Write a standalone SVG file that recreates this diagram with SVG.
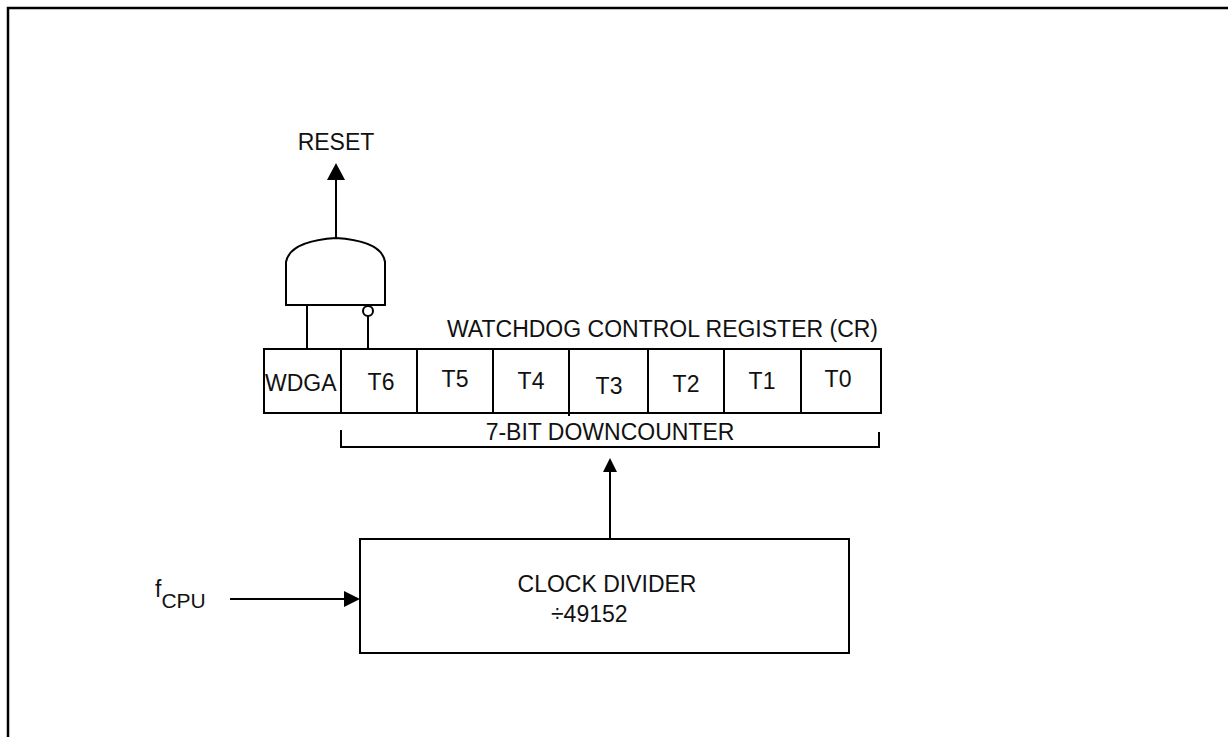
<svg xmlns="http://www.w3.org/2000/svg" width="1228" height="737" viewBox="0 0 1228 737">
<style>
.ln{stroke:#000;stroke-width:2;fill:none}
.bx{stroke:#000;stroke-width:2;fill:#fff}
text{font-family:"Liberation Sans",Arial,sans-serif;font-size:23px;fill:#111}
.c{text-anchor:middle}
</style>
<rect width="1228" height="737" fill="#fff"/>
<g id="frame">
<path d="M8,737 V8 H1228" stroke="#000" stroke-width="2.5" fill="none"/>
</g>
<g id="connectors">
<line class="ln" x1="336" y1="238" x2="336" y2="180"/>
<path d="M327,180 L345,180 L336,163 Z" fill="#000"/>
<line class="ln" x1="307" y1="305" x2="307" y2="348"/>
<line class="ln" x1="368" y1="316" x2="368" y2="348"/>
<line class="ln" x1="610" y1="539" x2="610" y2="472"/>
<path d="M603,472 L617,472 L610,458 Z" fill="#000"/>
<line class="ln" x1="230" y1="599" x2="345" y2="599"/>
<path d="M344,591 L344,607 L360,599 Z" fill="#000"/>
</g>
<g id="reset-label">
<text x="336" y="150" class="c" font-size="22">RESET</text>
</g>
<g id="and-gate">
<path class="ln" d="M286,305 V262 Q290,241 336,238 Q382,241 385,262 V305 Z"/>
<circle cx="368" cy="311" r="5" class="bx"/>
</g>
<g id="register">
<text x="447" y="337">WATCHDOG CONTROL REGISTER (CR)</text>
<rect class="bx" x="264" y="349" width="617" height="64"/>
<path class="ln" d="M341,349 V413 M417,349 V413 M493,349 V413 M569,349 V416 M648,349 V413 M724,349 V413 M801,349 V413"/>
<text x="265" y="391">WDGA</text>
<text x="381" y="390" class="c">T6</text>
<text x="455" y="387" class="c">T5</text>
<text x="531" y="389" class="c">T4</text>
<text x="609" y="394" class="c">T3</text>
<text x="686" y="392" class="c">T2</text>
<text x="762" y="389" class="c">T1</text>
<text x="838" y="387" class="c">T0</text>
</g>
<g id="downcounter">
<path class="ln" d="M341,430 V447 H879 V432"/>
<text x="610" y="440" class="c" font-size="24">7-BIT DOWNCOUNTER</text>
</g>
<g id="clock-divider">
<rect class="bx" x="360" y="539" width="489" height="114"/>
<text x="607" y="592" class="c">CLOCK DIVIDER</text>
<text x="551" y="622">÷49152</text>
</g>
<g id="fcpu">
<text x="155" y="597">f<tspan font-size="21" dy="11">CPU</tspan></text>
</g>
</svg>
